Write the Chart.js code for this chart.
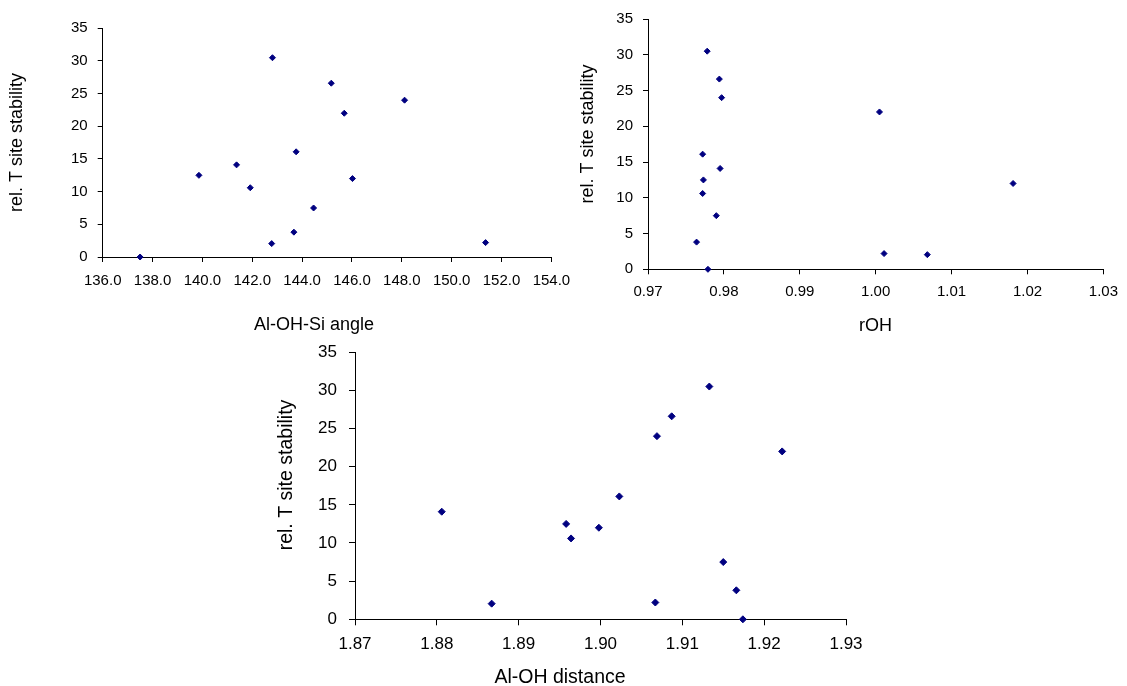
<!DOCTYPE html>
<html>
<head>
<meta charset="utf-8">
<script src="https://cdn.jsdelivr.net/npm/chart.js@4/dist/chart.umd.min.js"></script>
<style>
  html, body { margin: 0; padding: 0; background: #fff; }
  body { width: 1127px; height: 686px; position: relative; overflow: hidden; }
  canvas { position: absolute; }
</style>
</head>
<body>
<canvas id="c1" width="600" height="340" style="left:0;top:0"></canvas>
<canvas id="c2" width="567" height="340" style="left:560px;top:0"></canvas>
<canvas id="c3" width="660" height="356" style="left:240px;top:330px"></canvas>
<script>
// same 14 structures in every plot
const stability = [30.5, 26.6, 24.0, 22.0, 16.1, 14.1, 12.5, 12.0, 10.6, 7.5, 3.8, 2.2, 2.05, 0];
const angle     = [142.81, 145.17, 148.11, 145.69, 143.76, 141.37, 139.86, 146.02, 141.92, 144.46, 143.67, 151.36, 142.78, 137.5];
const rOH       = [0.9778, 0.9794, 0.9797, 1.0005, 0.9772, 0.9795, 0.9773, 1.0181, 0.9772, 0.9790, 0.9764, 1.0011, 1.0068, 0.9779];
const alOHdist  = [1.9133, 1.9087, 1.9069, 1.9222, 1.9023, 1.8806, 1.8958, 1.8998, 1.8964, 1.9150, 1.9166, 1.9067, 1.8867, 1.9174];

const yTitle = 'rel. T site stability';
const FONT = '"Liberation Sans", Arial, sans-serif';

// — eksen başlıkları (Excel gibi, alan ortasına göre biraz kayık) —
const axisTitles = {
  id: 'axisTitles',
  afterDraw(chart, args, o) {
    const ctx = chart.ctx;
    ctx.save();
    ctx.fillStyle = '#000';
    ctx.font = o.size + 'px ' + FONT;
    ctx.textAlign = 'center';
    ctx.textBaseline = 'middle';
    ctx.fillText(o.xText, o.xPos[0], o.xPos[1]);
    ctx.translate(o.yPos[0], o.yPos[1]);
    ctx.rotate(-Math.PI / 2);
    ctx.fillText(yTitle, 0, 0);
    ctx.restore();
  }
};

function makeChart(id, xs, g) {
  const cv = document.getElementById(id);
  const W = cv.width, H = cv.height;
  const pts = xs.map((x, i) => ({ x: x, y: stability[i] }));
  return new Chart(cv, {
    type: 'scatter',
    data: {
      datasets: [{
        data: pts,
        pointStyle: 'rectRot',
        pointRadius: g.r,
        pointHoverRadius: g.r,
        backgroundColor: '#000080',
        borderColor: '#000080',
        borderWidth: 1,
        clip: false
      }]
    },
    options: {
      responsive: false,
      animation: false,
      events: [],
      layout: { padding: { left: 0, top: g.top, right: W - g.right, bottom: 0 } },
      plugins: {
        legend: { display: false },
        tooltip: { enabled: false },
        axisTitles: { xText: g.xText, xPos: g.xPos, yPos: g.yPos, size: g.titleSize }
      },
      scales: {
        x: {
          type: 'linear',
          min: g.min, max: g.max,
          afterFit: s => { s.height = H - g.bottom; },
          border: { color: '#000', width: 1 },
          grid: { drawOnChartArea: false, drawTicks: true, tickLength: g.tl, color: '#000' },
          ticks: {
            stepSize: g.step,
            color: '#000',
            padding: g.xPad,
            maxRotation: 0,
            autoSkip: false,
            font: { family: FONT, size: g.tickSize },
            callback: v => Number(v).toFixed(g.dec)
          }
        },
        y: {
          type: 'linear',
          min: 0, max: 35,
          afterFit: s => { s.width = g.left; },
          border: { color: '#000', width: 1 },
          grid: { drawOnChartArea: false, drawTicks: true, tickLength: g.tl, color: '#000' },
          ticks: {
            stepSize: 5,
            color: '#000',
            padding: g.yPad,
            font: { family: FONT, size: g.tickSize }
          }
        }
      }
    },
    plugins: [axisTitles]
  });
}

makeChart('c1', angle, {
  min: 136, max: 154, step: 2, dec: 1,
  left: 102.7, top: 28.3, right: 551.4, bottom: 257,
  tl: 5, xPad: 10, yPad: 10, tickSize: 15, titleSize: 18, r: 3,
  xText: 'Al-OH-Si angle', xPos: [314, 325], yPos: [17.5, 142.5]
});

makeChart('c2', rOH, {
  min: 0.97, max: 1.03, step: 0.01, dec: 2,
  left: 88, top: 19, right: 544, bottom: 269.3,
  tl: 5, xPad: 9, yPad: 10, tickSize: 15, titleSize: 18, r: 3,
  xText: 'rOH', xPos: [315.5, 325.7], yPos: [28, 134]
});

makeChart('c3', alOHdist, {
  min: 1.87, max: 1.93, step: 0.01, dec: 2,
  left: 115, top: 20, right: 606, bottom: 289.3,
  tl: 6, xPad: 9, yPad: 12, tickSize: 17, titleSize: 19.5, r: 3.5,
  xText: 'Al-OH distance', xPos: [320, 348], yPos: [47, 145]
});
</script>
</body>
</html>
